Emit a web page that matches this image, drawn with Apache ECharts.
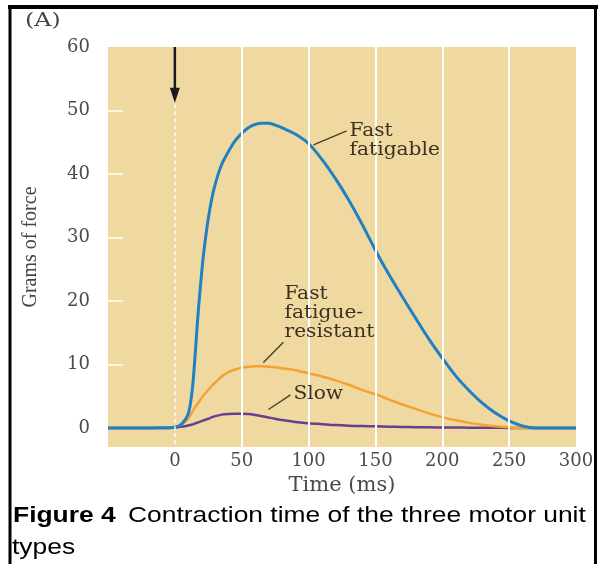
<!DOCTYPE html>
<html>
<head>
<meta charset="utf-8">
<script src="https://cdn.jsdelivr.net/npm/echarts@6/dist/echarts.min.js"></script>
<style>
html,body{margin:0;padding:0;background:#fff;}
#c{width:598px;height:564px;}
</style>
</head>
<body>
<div id="c"></div>
<script>
// ---- data ----
const time = [-50,-20,-10,0,5,10,13,15,17,19,21,23,25,28,31,35,40,45,50,55,60,65,70,75,80,90,100,110,120,130,140,150,160,170,180,190,200,210,220,230,240,250,260,270,280,300];
const fastFatigable = [0,0,0.02,0.1,0.6,2.2,6,11,17,22,26.5,30,33,36.5,39,41.5,43.5,45.2,46.4,47.3,47.8,48.0,48.0,47.7,47.3,46.3,44.8,42.3,39.3,35.9,32.1,28.0,24.2,20.7,17.3,14.0,11.0,8.2,5.9,3.9,2.3,1.1,0.3,0,0,0];
const fastResistant = [0,0,0.02,0.1,0.5,1.5,2.5,3.2,3.8,4.4,5.0,5.5,6.0,6.7,7.3,8.1,8.8,9.2,9.5,9.65,9.7,9.7,9.65,9.55,9.4,9.1,8.6,8.1,7.5,6.8,6.0,5.3,4.5,3.7,3.0,2.3,1.7,1.2,0.8,0.5,0.25,0.1,0,0,0,0];
const slow = [0,0,0,0.05,0.2,0.4,0.55,0.7,0.85,1.0,1.15,1.3,1.45,1.7,1.9,2.1,2.2,2.25,2.25,2.2,2.05,1.85,1.65,1.45,1.25,0.95,0.75,0.6,0.45,0.35,0.3,0.25,0.2,0.15,0.12,0.1,0.08,0.06,0.05,0.04,0.02,0.01,0,0,0,0];
const xTickValues = [0,50,100,150,200,250,300];
const yTickValues = [0,10,20,30,40,50,60];
const yInnerTicks = [10,20,30,40,50];
const gridValues = [50,100,150,200,250];
const stimulusTime = 0;

const serif = 'DejaVu Serif';
const chart = echarts.init(document.getElementById('c'), null, {renderer:'canvas'});

const pairs = arr => time.map((t,i)=>[t, arr[i]]);

const option = {
  animation:false,
  backgroundColor:'#ffffff',
  grid:{left:108,right:22,top:47,bottom:117,show:true,backgroundColor:'#f0d9a1',borderWidth:0},
  xAxis:{
    type:'value',min:-50,max:300,
    name:'Time (ms)',nameLocation:'middle',nameGap:26,
    nameTextStyle:{fontFamily:serif,fontSize:21,color:'#4a4a4a'},
    axisLine:{show:false,onZero:false},
    axisTick:{show:false},
    splitLine:{show:false},
    axisLabel:{customValues:xTickValues,fontFamily:serif,fontSize:18,color:'#4a4a4a',margin:5}
  },
  yAxis:{
    type:'value',min:-3,max:60,
    name:'Grams of force',nameLocation:'middle',nameGap:67,
    nameTextStyle:{fontFamily:'Liberation Serif',fontSize:20,color:'#444'},
    axisLine:{show:false,onZero:false},
    axisTick:{show:true,inside:true,length:15,customValues:yInnerTicks,lineStyle:{color:'#ffffff',width:1.5}},
    splitLine:{show:false},
    axisLabel:{customValues:yTickValues,fontFamily:serif,fontSize:18,color:'#4a4a4a',margin:18}
  },
  series:[
    {
      type:'line',name:'grid',data:[],z:1,silent:true,
      markLine:{
        silent:true,symbol:['none','none'],label:{show:false},
        data:[
          ...gridValues.map(v=>({xAxis:v,lineStyle:{color:'#ffffff',width:2,type:'solid'}})),
          [{coord:[stimulusTime,51]},{coord:[stimulusTime,-3],lineStyle:{color:'rgba(255,255,255,0.9)',width:1.5,type:[4,3]}}]
        ]
      }
    },
    {type:'line',name:'Slow',data:pairs(slow),z:2,showSymbol:false,smooth:0.3,
      lineStyle:{color:'#65408c',width:2.5},itemStyle:{color:'#65408c'}},
    {type:'line',name:'Fast fatigue-resistant',data:pairs(fastResistant),z:3,showSymbol:false,smooth:0.3,
      lineStyle:{color:'#f2a335',width:2.5},itemStyle:{color:'#f2a335'}},
    {type:'line',name:'Fast fatigable',data:pairs(fastFatigable),z:4,showSymbol:false,smooth:0.3,
      lineStyle:{color:'#1f80c4',width:3},itemStyle:{color:'#1f80c4'}}
  ]
};
chart.setOption(option);

const P = (x,y)=>chart.convertToPixel({xAxisIndex:0,yAxisIndex:0},[x,y]);
const txtColor = '#3a3221';
const lineH = 19;
function label(text, at){
  const p = P(at[0], at[1]);
  return {type:'text',x:p[0],y:p[1]-lineH/2,scaleX:1.12,z:50,silent:true,
    style:{text:text,font:'18px "DejaVu Serif"',fill:txtColor,lineHeight:lineH,align:'left',verticalAlign:'top'}};
}
function connector(a,b){
  const p=P(a[0],a[1]), q=P(b[0],b[1]);
  return {type:'line',z:50,silent:true,shape:{x1:p[0],y1:p[1],x2:q[0],y2:q[1]},style:{stroke:'#4a3f2c',lineWidth:1.4}};
}
const arrowTop = P(stimulusTime,60), arrowBase = P(stimulusTime,53.6), arrowTip = P(stimulusTime,51.2);

chart.setOption({graphic:[
  label('Fast\nfatigable',[130.7,46.7]),
  connector([103.7,44.6],[128.5,46.8]),
  label('Fast\nfatigue-\nresistant',[82,21.0]),
  connector([66.2,10.3],[81.2,13.5]),
  label('Slow',[88.7,5.3]),
  connector([70,2.9],[86.5,5.2]),
  // stimulus arrow
  {type:'line',z:50,silent:true,shape:{x1:arrowTop[0],y1:arrowTop[1],x2:arrowBase[0],y2:arrowBase[1]+2},style:{stroke:'#1a1a1a',lineWidth:2.5}},
  {type:'polygon',z:50,silent:true,shape:{points:[[arrowBase[0]-5,arrowBase[1]],[arrowBase[0]+5,arrowBase[1]],[arrowTip[0],arrowTip[1]]]},style:{fill:'#1a1a1a'}},
  // panel letter
  {type:'text',x:25,y:21,scaleX:1.25,z:50,silent:true,style:{text:'(A)',font:'19px "DejaVu Serif"',fill:'#444',verticalAlign:'middle'}},
  // caption
  {type:'text',x:13,y:516,scaleX:1.2,z:50,silent:true,style:{text:'Figure 4',font:'bold 22px "Liberation Sans"',fill:'#000',verticalAlign:'middle'}},
  {type:'text',x:128,y:516,scaleX:1.2,z:50,silent:true,style:{text:'Contraction time of the three motor unit',font:'22px "Liberation Sans"',fill:'#000',verticalAlign:'middle'}},
  {type:'text',x:12,y:548,scaleX:1.2,z:50,silent:true,style:{text:'types',font:'22px "Liberation Sans"',fill:'#000',verticalAlign:'middle'}},
  // frame
  {type:'line',z:60,silent:true,shape:{x1:8,y1:7,x2:598,y2:7},style:{stroke:'#000',lineWidth:4}},
  {type:'line',z:60,silent:true,shape:{x1:10,y1:5,x2:10,y2:564},style:{stroke:'#000',lineWidth:3}},
  {type:'line',z:60,silent:true,shape:{x1:595.5,y1:5,x2:595.5,y2:564},style:{stroke:'#000',lineWidth:3}}
]});
</script>
</body>
</html>
